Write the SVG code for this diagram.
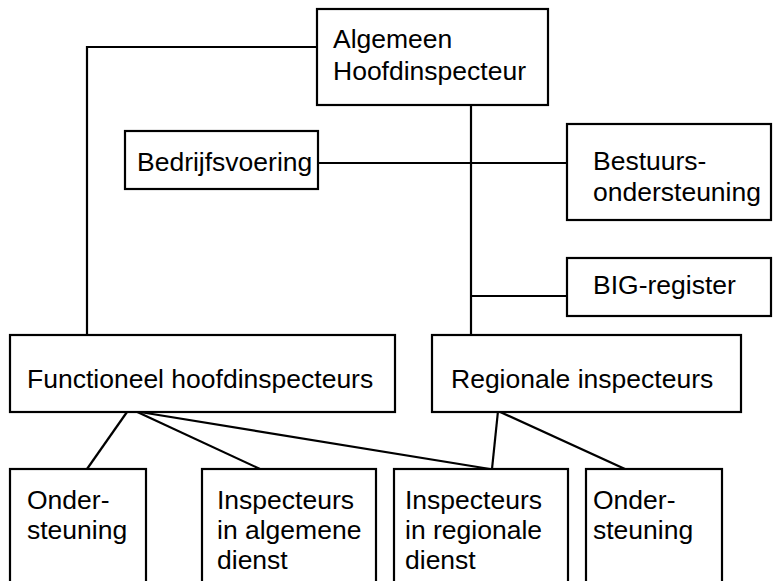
<svg xmlns="http://www.w3.org/2000/svg" width="773" height="581" viewBox="0 0 773 581">
<style>
.box{fill:#fff;stroke:#000;stroke-width:2.2}
.ln{fill:none;stroke:#000;stroke-width:2.2}
text{font-family:"Liberation Sans",Arial,sans-serif;font-size:26.5px;fill:#000}
</style>
<rect width="773" height="581" fill="#fff"/>
<g id="connectors">
<polyline class="ln" points="317,47 87,47 87,335"/>
<line class="ln" x1="471" y1="105" x2="471" y2="335"/>
<line class="ln" x1="318" y1="163" x2="567" y2="163"/>
<line class="ln" x1="471" y1="296" x2="567" y2="296"/>
<line class="ln" x1="127" y1="412" x2="87" y2="469"/>
<line class="ln" x1="133" y1="410" x2="260" y2="469"/>
<line class="ln" x1="140" y1="412" x2="490" y2="469"/>
<line class="ln" x1="498" y1="411" x2="492" y2="469"/>
<line class="ln" x1="498" y1="411" x2="625" y2="469"/>
</g>
<g id="algemeen">
<rect class="box" x="317" y="9" width="231" height="96"/>
<text x="333" y="48">Algemeen</text>
<text x="333" y="80">Hoofdinspecteur</text>
</g>
<g id="bedrijfsvoering">
<rect class="box" x="125" y="131" width="193" height="58"/>
<text x="137" y="171">Bedrijfsvoering</text>
</g>
<g id="bestuursondersteuning">
<rect class="box" x="567" y="124" width="204" height="96"/>
<text x="593" y="170">Bestuurs-</text>
<text x="593" y="201">ondersteuning</text>
</g>
<g id="big-register">
<rect class="box" x="567" y="258" width="204" height="58"/>
<text x="593" y="294">BIG-register</text>
</g>
<g id="functioneel">
<rect class="box" x="10" y="335" width="385" height="77"/>
<text x="27" y="388">Functioneel hoofdinspecteurs</text>
</g>
<g id="regionale">
<rect class="box" x="432" y="335" width="309" height="77"/>
<text x="451" y="388">Regionale inspecteurs</text>
</g>
<g id="ondersteuning-1">
<rect class="box" x="10" y="469" width="136" height="130"/>
<text x="27" y="509">Onder-</text>
<text x="27" y="539">steuning</text>
</g>
<g id="inspecteurs-algemeen">
<rect class="box" x="202" y="469" width="174" height="130"/>
<text x="217" y="509">Inspecteurs</text>
<text x="217" y="539">in algemene</text>
<text x="217" y="569">dienst</text>
</g>
<g id="inspecteurs-regionaal">
<rect class="box" x="394" y="469" width="174" height="130"/>
<text x="405" y="509">Inspecteurs</text>
<text x="405" y="539">in regionale</text>
<text x="405" y="569">dienst</text>
</g>
<g id="ondersteuning-2">
<rect class="box" x="586" y="469" width="136" height="130"/>
<text x="593" y="509">Onder-</text>
<text x="593" y="539">steuning</text>
</g>
</svg>
